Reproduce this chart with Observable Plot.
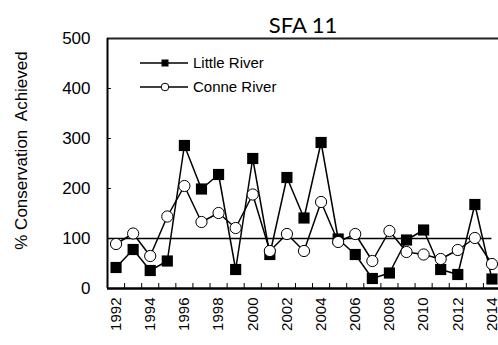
<!DOCTYPE html>
<html><head><meta charset="utf-8">
<script src="https://cdn.jsdelivr.net/npm/d3@7"></script>
<script src="https://cdn.jsdelivr.net/npm/@observablehq/plot@0.6"></script>
<style>body{margin:0;background:#fff;} svg{display:block;}</style>
</head><body><div id="chart"></div>
<script>
const title = "SFA 11";
const yLabel = "% Conservation\u00a0 Achieved";
const years = [1992,1993,1994,1995,1996,1997,1998,1999,2000,2001,2002,2003,2004,2005,2006,2007,2008,2009,2010,2011,2012,2013,2014];
const littleRiver = [42,78,36,55,286,199,228,38,260,68,222,141,292,99,68,20,31,97,117,38,28,168,19];
const conneRiver = [89,110,65,144,205,133,151,121,188,75,109,75,173,93,109,55,115,73,68,59,77,101,49];
const seriesNames = ["Little River", "Conne River"];
const yTicks = [0,100,200,300,400,500];
const xTickLabels = [1992,1994,1996,1998,2000,2002,2004,2006,2008,2010,2012,2014];
const conservationLine = 100;

const little = years.map((y,i)=>({year:y, value:littleRiver[i]}));
const conne = years.map((y,i)=>({year:y, value:conneRiver[i]}));
const xEdges = d3.range(years[0]-0.5, years[years.length-1]+1, 1);

const fontFamily = "'Liberation Sans', Arial, sans-serif";
const chart = Plot.plot({
  width: 498, height: 345,
  marginLeft: 107, marginTop: 38, marginBottom: 57, marginRight: 0,
  style: {fontFamily, fontSize: "15px", color: "black", background: "white"},
  x: {domain: [years[0]-0.5, years[years.length-1]+0.5], range: [107, 500]},
  y: {domain: [0, 500], range: [288, 38]},
  marks: [
    Plot.ruleY([conservationLine], {x1: years[0]-0.5, x2: years[years.length-1], stroke: "black", strokeWidth: 1.5}),
    Plot.ruleY(yTicks.slice(1,-1), {x1: years[0]-0.5, x2: years[0]-0.27, stroke: "black", strokeWidth: 1}),
    Plot.ruleX(xEdges, {y1: 0, y2: 10, stroke: "black", strokeWidth: 1}),
    Plot.ruleY([500], {stroke: "#222", strokeWidth: 2}),
    Plot.ruleX([years[0]-0.5], {stroke: "black", strokeWidth: 2}),
    Plot.ruleY([0], {stroke: "black", strokeWidth: 2.5}),
    Plot.line(little, {x: "year", y: "value", stroke: "black", strokeWidth: 1.5, curve: "linear"}),
    Plot.dot(little, {x: "year", y: "value", symbol: "square", r: 6.3, fill: "black", stroke: "none"}),
    Plot.line(conne, {x: "year", y: "value", stroke: "black", strokeWidth: 1.5, curve: "linear"}),
    Plot.dot(conne, {x: "year", y: "value", r: 5.6, fill: "white", stroke: "black", strokeWidth: 1}),
    Plot.axisY({ticks: yTicks, tickSize: 0, tickPadding: 17, fontSize: 17, label: null}),
    Plot.axisX({ticks: xTickLabels, tickSize: 0, tickPadding: 9, tickRotate: -90, tickFormat: d => String(d), fontSize: 15, label: null}),
    Plot.text([yLabel], {frameAnchor: "left", textAnchor: "middle", dx: -86, dy: -13, rotate: -90, fontSize: 17}),
    Plot.text([title], {frameAnchor: "top", textAnchor: "middle", dy: -21, fontSize: 22, fontFamily: "Lato, 'Open Sans', sans-serif"})
  ]
});
document.getElementById("chart").append(chart);

// legend inside plot frame
const svg = d3.select(chart);
const lg = svg.append("g").attr("font-family", fontFamily).attr("font-size", 15).attr("text-anchor", "start");
const rows = [{y: 63, kind: "square", name: seriesNames[0]}, {y: 87, kind: "circle", name: seriesNames[1]}];
rows.forEach(r => {
  lg.append("path").attr("d", `M140,${r.y}H188`).attr("fill", "none").attr("stroke", "black").attr("stroke-width", 1.5);
  if (r.kind === "square") lg.append("rect").attr("x", 161.5).attr("y", r.y-3.5).attr("width", 7).attr("height", 7).attr("fill", "black");
  else lg.append("circle").attr("cx", 165).attr("cy", r.y).attr("r", 3.8).attr("fill", "white").attr("stroke", "black");
  lg.append("text").attr("x", 193).attr("y", r.y).attr("dy", "0.35em").attr("text-anchor", "start").text(r.name);
});
</script>
</body></html>
